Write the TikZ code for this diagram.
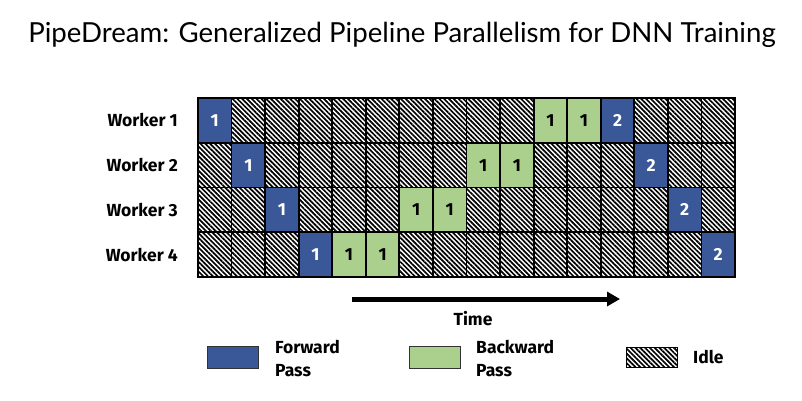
\documentclass[tikz,border=0pt]{standalone}
\usepackage{fontspec}
\setmainfont{Lato}
\newfontfamily\lblfont{Fira Sans}
\usetikzlibrary{arrows.meta,patterns.meta}
\definecolor{fwdblue}{HTML}{3A5797}
\definecolor{bwdgreen}{HTML}{ABCF8C}
\tikzset{
  lbl/.style={font=\lblfont\bfseries\fontsize{17.5}{20}\selectfont, inner sep=0pt},
  cell/.style={draw=black, line width=1.8pt, minimum width=33.56pt, minimum height=44.75pt, inner sep=0pt, outer sep=0pt, font=\lblfont\bfseries\fontsize{17.5}{20}\selectfont},
  fwd/.style={fill=fwdblue, text=white},
  bwd/.style={fill=bwdgreen, text=black},
  idle/.style={pattern={Lines[angle=-45,distance=3.4pt,line width=1.7pt]}},
  legbox/.style={draw=black!80, line width=0.8pt, minimum width=51pt, minimum height=22pt, inner sep=0pt},
}
\begin{document}
\begin{tikzpicture}[x=1pt,y=-1pt]
\useasboundingbox (0,0) rectangle (802,400);
\node[font=\fontsize{27.6}{32}\selectfont, inner sep=0pt] (title) at (402,35) {PipeDream: Generalized Pipeline Parallelism for DNN Training};
\foreach \r/\f/\ba/\bb/\s in {1/0/10/11/12,2/1/8/9/13,3/2/6/7/14,4/3/4/5/15}{
  \pgfmathsetmacro\yy{98+44.75*(\r-1)+22.375}
  \node[lbl, anchor=east] (w\r) at (178,\yy) {Worker \r};
  \foreach \c in {0,...,15}{
    \pgfmathsetmacro\xx{198+33.5625*\c+16.78}
    \ifnum\c=\f \node[cell,fwd] (c\r-\c) at (\xx,\yy) {1};
    \else\ifnum\c=\s \node[cell,fwd] (c\r-\c) at (\xx,\yy) {2};
    \else\ifnum\c=\ba \node[cell,bwd] (c\r-\c) at (\xx,\yy) {1};
    \else\ifnum\c=\bb \node[cell,bwd] (c\r-\c) at (\xx,\yy) {1};
    \else \node[cell,idle] (c\r-\c) at (\xx,\yy) {};
    \fi\fi\fi\fi
  }
}
\coordinate (ts) at (352,299);
\coordinate (te) at (620,299);
\draw[line width=5pt, -{Triangle[length=13pt,width=14pt]}] (ts) -- (te);
\node[lbl] (time) at (473,319) {Time};
\node[legbox, fill=fwdblue] (lf) at (232.5,357) {};
\node[lbl, anchor=west, align=left] (lft) at (275,358) {Forward\\[3pt]Pass};
\node[legbox, fill=bwdgreen] (lb) at (434.5,357) {};
\node[lbl, anchor=west, align=left] (lbt) at (476,358) {Backward\\[3pt]Pass};
\node[legbox, draw=black, minimum height=20pt, idle] (li) at (651.5,357) {};
\node[lbl, anchor=west] (lit) at (693,357) {Idle};
\end{tikzpicture}
\end{document}
